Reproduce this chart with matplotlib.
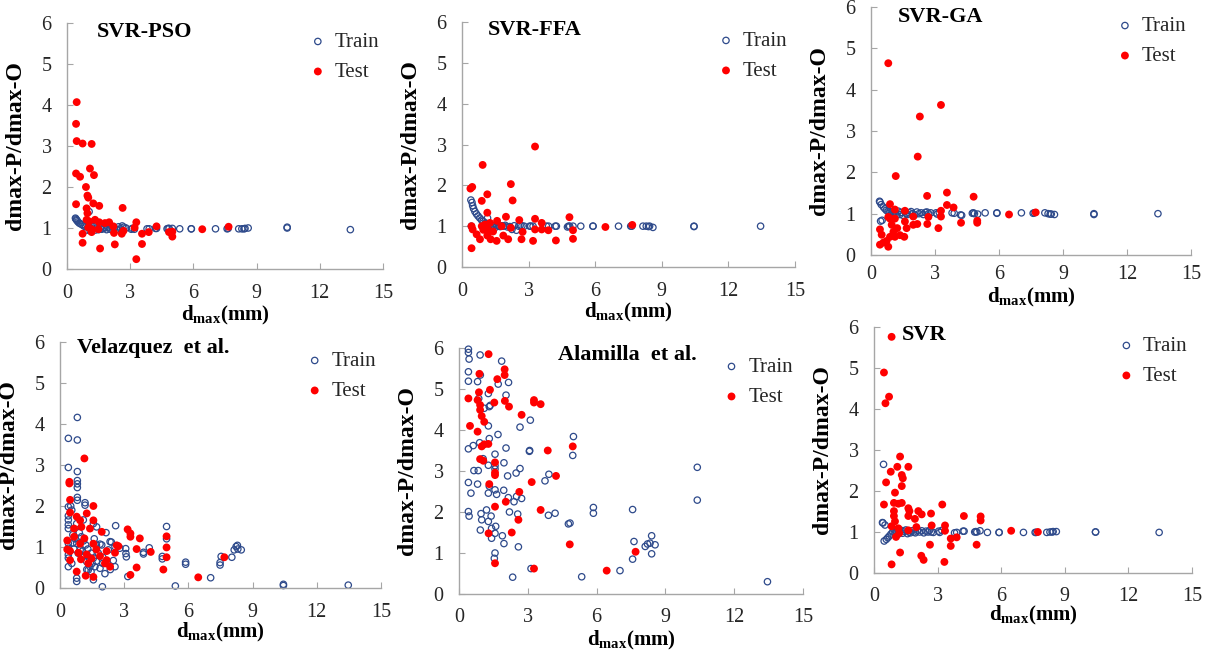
import matplotlib
matplotlib.use('Agg')
import matplotlib.pyplot as plt

plt.rcParams['font.family'] = ['Liberation Serif', 'DejaVu Serif']
plt.rcParams['mathtext.fontset'] = 'custom'
plt.rcParams['mathtext.rm'] = 'Liberation Serif'
plt.rcParams['mathtext.bf'] = 'Liberation Serif:bold'
plt.rcParams['mathtext.it'] = 'Liberation Serif:italic'

# ---------------- data ----------------
# shared training d_max values for the four SVR panels
train_x = [0.40, 0.42, 0.45, 0.48, 0.52, 0.58, 0.65, 0.72, 0.80, 0.88,
           0.95, 1.00, 1.05, 1.10, 1.15, 1.20, 1.28, 1.35, 1.42, 1.50,
           1.58, 1.65, 1.72, 1.80, 1.88, 1.95, 2.05, 2.15, 2.25, 2.35,
           2.45, 2.55, 2.62, 2.70, 2.80, 3.05, 3.10, 3.20, 3.80, 3.90,
           4.20, 4.25, 4.75, 4.80, 4.85, 5.00, 5.35, 5.90, 5.90, 7.05,
           7.60, 7.65, 8.15, 8.30, 8.40, 8.45, 8.60, 10.45, 10.45, 13.45]

pso_train_y = [1.24, 1.22, 1.20, 1.18, 1.15, 1.12, 1.10, 1.08, 1.05, 1.03,
               0.95, 1.02, 1.40, 0.93, 1.05, 0.98, 1.03, 0.95, 1.00, 0.96,
               1.02, 0.97, 0.99, 1.00, 0.96, 1.02, 0.97, 0.99, 1.00, 0.97,
               1.03, 0.98, 1.05, 1.02, 1.00, 0.97, 0.99, 0.97, 0.98, 0.98,
               0.99, 0.99, 0.98, 0.99, 0.99, 0.99, 0.98, 0.98, 0.98, 0.98,
               0.98, 0.99, 0.98, 0.98, 0.98, 0.99, 1.00, 1.02, 1.00, 0.96]

ffa_train_y = [1.64, 1.00, 1.58, 1.50, 1.43, 1.36, 1.30, 1.25, 1.20, 1.15,
               1.12, 1.00, 1.08, 1.05, 1.20, 1.00, 0.98, 1.02, 1.00, 0.97,
               1.02, 1.00, 0.99, 1.01, 1.00, 1.02, 0.98, 0.99, 0.92, 1.01,
               0.90, 1.00, 1.02, 1.01, 1.00, 1.00, 1.00, 1.00, 1.00, 1.00,
               1.00, 1.00, 0.98, 1.00, 1.00, 1.00, 1.00, 1.00, 1.00, 1.00,
               1.00, 1.00, 1.00, 1.00, 0.99, 1.00, 0.97, 1.00, 0.99, 1.00]

ga_train_y = [1.30, 1.28, 0.82, 1.22, 0.84, 1.16, 1.12, 1.08, 1.05, 1.05,
              1.04, 1.00, 1.02, 1.05, 1.00, 0.97, 1.06, 0.98, 1.03, 0.96,
              1.05, 1.00, 0.98, 1.02, 1.05, 1.00, 0.97, 1.04, 1.00, 1.02,
              0.98, 1.03, 1.04, 1.00, 1.02, 1.02, 0.99, 1.03, 1.02, 1.01,
              0.97, 0.96, 1.01, 1.02, 1.00, 0.99, 1.02, 1.02, 1.01, 1.02,
              1.01, 1.02, 1.02, 1.00, 0.99, 0.99, 0.98, 1.00, 0.98, 1.00]

svr_train_y = [1.23, 1.22, 2.65, 0.78, 1.17, 0.82, 0.86, 0.90, 0.95, 1.00,
               1.05, 0.98, 1.02, 1.06, 0.95, 1.00, 1.04, 0.97, 1.02, 1.05,
               0.96, 1.00, 0.98, 1.03, 1.00, 0.98, 1.04, 1.00, 1.03, 0.98,
               1.02, 1.00, 1.04, 1.00, 0.99, 1.02, 0.99, 1.04, 0.98, 0.99,
               1.02, 1.02, 1.00, 1.01, 1.00, 1.03, 0.99, 0.99, 0.99, 0.99,
               0.99, 0.99, 0.99, 1.00, 1.00, 1.01, 1.01, 1.00, 1.00, 0.99]

# SVR-PSO test
pso_test_x = [0.46, 0.43, 0.46, 0.74, 1.17, 0.43, 0.62, 1.09, 1.28, 0.90,
              0.97, 1.01, 0.43, 1.25, 1.53, 2.64, 0.93, 0.97, 1.06, 1.53,
              1.80, 2.00, 2.20, 3.29, 1.01, 1.17, 1.49, 2.23, 2.60, 2.68,
              3.21, 3.56, 3.88, 4.25, 4.84, 5.00, 5.00, 6.42, 7.67, 0.74,
              0.74, 1.17, 1.57, 2.27, 3.56, 3.29, 0.93, 1.33]
pso_test_y = [4.07, 3.54, 3.12, 3.06, 3.05, 2.33, 2.25, 2.45, 2.29, 2.00,
              1.79, 1.74, 1.58, 1.60, 1.54, 1.49, 1.48, 1.36, 1.16, 1.14,
              1.12, 1.14, 1.04, 1.14, 1.01, 0.97, 0.97, 0.88, 0.86, 0.93,
              1.01, 0.86, 0.90, 1.04, 0.90, 0.79, 0.91, 0.97, 1.03, 0.86,
              0.64, 0.90, 0.50, 0.60, 0.61, 0.24, 1.20, 1.20]

# SVR-FFA test
ffa_test_x = [3.29, 0.93, 0.38, 0.46, 2.20, 2.28, 1.14, 0.89, 1.14, 1.98,
              4.84, 3.29, 2.58, 1.58, 3.59, 0.43, 0.48, 2.20, 1.78, 3.29,
              3.59, 3.89, 5.00, 6.46, 7.67, 0.66, 0.81, 1.14, 1.29, 1.56,
              1.86, 2.08, 2.68, 2.73, 3.20, 4.23, 5.00, 0.43, 0.96, 1.18,
              1.40, 1.04, 1.26, 0.89]
ffa_test_y = [2.95, 2.50, 1.92, 1.96, 2.03, 1.63, 1.78, 1.62, 1.33, 1.23,
              1.22, 1.18, 1.15, 1.13, 1.08, 1.00, 0.92, 0.96, 1.00, 0.92,
              0.92, 0.90, 0.90, 0.98, 1.03, 0.80, 0.68, 0.77, 0.68, 0.64,
              0.77, 0.68, 0.68, 0.86, 0.64, 0.65, 0.69, 0.46, 0.91, 0.91,
              0.87, 1.04, 1.08, 1.00]

# SVR-GA test
ga_test_x = [0.81, 3.28, 2.29, 2.19, 1.16, 2.63, 3.56, 4.81, 3.56, 3.87,
             0.89, 1.12, 1.59, 3.28, 3.28, 2.69, 1.98, 0.81, 6.47, 7.72,
             4.98, 4.98, 4.22, 3.16, 2.64, 2.17, 1.98, 1.59, 1.67, 1.12,
             0.97, 1.05, 1.23, 1.36, 1.12, 0.50, 0.89, 0.42, 1.56, 0.42,
             0.58, 0.81, 0.73, 0.89]
ga_test_y = [4.64, 3.63, 3.35, 2.38, 1.91, 1.43, 1.51, 1.41, 1.21, 1.15,
             1.23, 1.10, 1.07, 1.07, 0.93, 0.92, 0.93, 0.92, 0.98, 1.03,
             0.83, 0.78, 0.78, 0.65, 0.75, 0.75, 0.73, 0.81, 0.65, 0.88,
             0.73, 0.56, 0.65, 0.48, 0.44, 0.49, 0.44, 0.62, 0.44, 0.25,
             0.30, 0.20, 0.34, 0.88]

# Velazquez et al.
vel_train_x = [0.81, 0.39, 0.81, 0.39, 0.81, 0.81, 0.81, 0.81, 0.81, 0.81,
               1.17, 1.17, 0.39, 0.55, 0.39, 0.39, 0.39, 0.39, 0.78, 1.09,
               1.56, 1.71, 2.60, 0.39, 0.39, 0.39, 0.39, 0.39, 0.55, 0.78,
               0.94, 1.01, 1.25, 1.40, 1.56, 1.79, 1.63, 1.87, 2.10, 1.32,
               1.95, 2.34, 2.26, 2.57, 2.80, 3.07, 3.08, 3.10, 3.17, 4.17,
               3.90, 3.90, 4.78, 4.78, 4.98, 4.98, 5.87, 5.87, 5.39, 7.04,
               7.48, 7.48, 7.53, 8.03, 8.14, 8.23, 8.29, 8.31, 8.47, 10.44,
               10.44, 13.47, 1.98, 0.78, 0.78, 1.56, 2.57, 2.49, 1.87, 2.40,
               0.60, 0.70, 0.90, 1.00, 1.10, 1.20, 1.30, 1.45, 0.65, 0.85,
               1.05, 1.15, 1.35, 1.50, 1.70, 2.00, 2.20, 2.35, 1.60, 1.70,
               2.15, 2.00, 0.50, 0.60, 1.25, 1.45]
vel_train_y = [4.16, 3.65, 3.61, 2.94, 2.84, 2.62, 2.54, 2.45, 2.21, 2.14,
               2.08, 2.02, 1.98, 1.90, 1.76, 1.66, 1.54, 1.45, 1.57, 1.66,
               1.57, 1.49, 1.52, 1.09, 0.97, 0.81, 0.73, 0.52, 0.60, 1.09,
               0.93, 0.77, 0.64, 0.52, 0.73, 0.85, 0.52, 0.48, 0.35, 0.44,
               1.05, 1.13, 0.93, 1.01, 0.97, 0.96, 0.84, 0.76, 0.28, 0.98,
               0.87, 0.83, 0.77, 0.71, 1.50, 1.20, 0.63, 0.58, 0.05, 0.25,
               0.62, 0.56, 0.77, 0.75, 0.93, 1.01, 1.04, 0.95, 0.93, 0.09,
               0.06, 0.07, 0.03, 0.16, 0.24, 0.20, 0.52, 0.67, 1.07, 1.12,
               1.30, 1.20, 1.35, 1.25, 1.15, 1.05, 0.95, 0.85, 0.95, 0.85,
               0.90, 0.80, 0.75, 0.60, 0.65, 0.75, 0.60, 0.45, 1.20, 1.05,
               1.35, 0.60, 2.00, 1.10, 0.45, 0.40]
vel_test_x = [1.14, 0.44, 0.44, 0.47, 0.47, 1.56, 0.78, 1.25, 1.56, 0.94,
              1.95, 1.00, 0.66, 1.40, 3.16, 3.29, 3.29, 3.73, 4.98, 0.66,
              1.14, 0.94, 1.56, 0.34, 0.34, 0.86, 1.25, 0.98, 1.70, 1.87,
              2.18, 2.57, 2.73, 2.65, 3.58, 4.24, 4.98, 3.58, 3.29, 4.83,
              4.98, 6.46, 7.68, 0.47, 0.47, 0.78, 1.20, 1.56, 2.18, 2.34,
              2.10, 1.32, 1.47]
vel_test_y = [3.16, 2.59, 2.55, 2.15, 1.84, 2.00, 1.74, 1.82, 1.65, 1.65,
              1.37, 1.49, 1.45, 1.45, 1.43, 1.33, 1.25, 1.21, 1.26, 1.25,
              1.21, 1.08, 1.08, 1.16, 0.94, 0.86, 0.82, 0.70, 0.94, 0.78,
              0.90, 0.86, 1.02, 1.04, 0.95, 0.88, 0.99, 0.50, 0.32, 0.45,
              0.75, 0.26, 0.75, 0.90, 0.68, 0.40, 0.30, 0.27, 0.68, 0.52,
              0.60, 0.60, 0.72]

# Alamilla et al.
ala_train_x = [0.41, 0.41, 0.92, 0.44, 1.86, 0.41, 0.93, 0.41, 0.81, 1.71,
               2.16, 1.28, 2.05, 0.86, 1.32, 1.10, 1.36, 3.11, 2.66, 1.28,
               1.70, 4.99, 0.41, 1.32, 0.90, 3.08, 3.07, 4.96, 2.05, 1.57,
               1.57, 1.96, 0.65, 0.84, 1.28, 2.66, 2.49, 2.12, 3.92, 3.75,
               0.41, 0.81, 1.32, 1.57, 0.52, 1.28, 1.64, 2.15, 2.51, 2.73,
               0.41, 0.44, 0.96, 0.99, 1.40, 1.28, 2.20, 2.56, 3.90, 4.19,
               4.77, 4.84, 1.42, 0.93, 1.57, 1.89, 1.42, 2.59, 1.96, 1.57,
               1.54, 2.34, 5.35, 3.14, 5.86, 5.86, 7.57, 7.63, 7.57, 7.02,
               8.12, 8.22, 8.33, 8.40, 8.55, 8.40, 10.39, 10.39, 13.45, 0.62,
               1.05, 1.57, 1.95, 2.40, 1.20, 1.60]
ala_train_y = [5.97, 5.89, 5.83, 5.73, 5.68, 5.42, 5.34, 5.19, 5.18, 5.12,
               5.16, 4.89, 4.85, 4.77, 4.57, 4.53, 4.60, 4.24, 4.07, 4.10,
               3.89, 3.84, 3.54, 3.79, 3.69, 3.50, 3.48, 3.38, 3.56, 3.41,
               3.13, 3.20, 3.01, 3.01, 3.14, 3.06, 2.95, 2.88, 2.92, 2.76,
               2.72, 2.68, 2.63, 2.54, 2.46, 2.46, 2.43, 2.35, 2.38, 2.33,
               2.01, 1.90, 1.96, 1.81, 1.90, 1.77, 2.00, 1.95, 1.92, 1.97,
               1.71, 1.73, 1.60, 1.56, 1.48, 1.42, 1.36, 1.15, 1.23, 1.00,
               0.87, 0.41, 0.42, 0.62, 2.11, 1.97, 2.06, 1.28, 0.85, 0.57,
               1.16, 1.22, 1.24, 1.42, 1.20, 0.98, 3.09, 2.29, 0.30, 3.62,
               3.30, 3.05, 2.53, 2.25, 2.05, 1.65]
ala_test_x = [1.29, 0.89, 1.99, 1.99, 1.67, 1.35, 0.87, 0.41, 0.81, 0.92,
              1.54, 2.00, 2.18, 3.27, 3.27, 3.56, 2.73, 0.92, 0.99, 1.10,
              0.48, 0.81, 1.10, 1.28, 0.99, 3.87, 4.96, 0.92, 1.06, 1.57,
              1.57, 1.57, 4.23, 1.32, 3.17, 2.63, 2.04, 1.57, 3.56, 2.59,
              2.30, 1.29, 4.83, 1.57, 3.27, 7.70, 6.44]
ala_test_y = [5.85, 5.37, 5.48, 5.34, 5.24, 4.98, 4.92, 4.77, 4.73, 4.61,
              4.67, 4.71, 4.57, 4.73, 4.67, 4.63, 4.37, 4.49, 4.34, 4.20,
              4.10, 3.96, 3.65, 3.66, 3.60, 3.50, 3.60, 3.29, 3.25, 3.21,
              2.96, 2.90, 2.88, 2.68, 2.73, 2.49, 2.25, 2.13, 2.05, 1.81,
              1.50, 1.48, 1.21, 0.75, 0.62, 1.03, 0.57]

# SVR test
svr_test_x = [0.83, 0.47, 0.71, 0.54, 1.23, 1.10, 1.62, 0.79, 1.31, 1.36,
              0.57, 1.31, 0.99, 0.47, 0.94, 1.15, 1.31, 3.22, 1.62, 1.67,
              2.09, 2.25, 2.69, 4.24, 5.03, 5.03, 0.94, 0.94, 1.62, 1.93,
              2.72, 1.15, 3.35, 2.00, 1.62, 0.99, 0.83, 1.04, 3.35, 6.47,
              7.73, 3.62, 3.90, 3.62, 4.84, 2.64, 1.23, 2.23, 2.34, 3.32,
              0.83, 1.19]
svr_test_y = [5.76, 4.89, 4.30, 4.14, 2.84, 2.59, 2.59, 2.47, 2.39, 2.31,
              2.21, 2.12, 1.96, 1.67, 1.71, 1.69, 1.71, 1.67, 1.58, 1.51,
              1.51, 1.43, 1.45, 1.39, 1.38, 1.28, 1.51, 1.39, 1.39, 1.32,
              1.16, 1.09, 1.16, 1.12, 1.04, 1.26, 1.14, 0.88, 1.03, 1.03,
              1.00, 0.84, 0.87, 0.66, 0.69, 0.69, 0.50, 0.42, 0.32, 0.27,
              0.21, 0.97]

titles = ['SVR-PSO', 'SVR-FFA', 'SVR-GA', 'Velazquez  et al.', 'Alamilla  et al.', 'SVR']
x_ticks = [0, 3, 6, 9, 12, 15]
y_ticks = [0, 1, 2, 3, 4, 5, 6]
series_labels = ['Train', 'Test']

panel_data = [
    (train_x, pso_train_y, pso_test_x, pso_test_y),
    (train_x, ffa_train_y, ffa_test_x, ffa_test_y),
    (train_x, ga_train_y, ga_test_x, ga_test_y),
    (vel_train_x, vel_train_y, vel_test_x, vel_test_y),
    (ala_train_x, ala_train_y, ala_test_x, ala_test_y),
    (train_x, svr_train_y, svr_test_x, svr_test_y),
]

# ---------------- layout (pixels) ----------------
W, H = 1206, 651
# left, right, top, bottom of each plot area
boxes = [(67, 383, 23, 269), (462, 795, 22, 267), (871, 1191, 7, 255),
         (60, 381, 342, 588), (459, 803, 348, 594), (874, 1192, 327, 573)]
title_pos = [(0.095, 0.963), (0.078, 0.967), (0.084, 0.96),
             (0.053, 0.976), (0.288, 0.97), (0.088, 0.967)]
xlabel_off = [46, 45, 42, 44, 46, 42]
xtick_pad = [11, 11, 7, 11, 10, 10]

train_color = '#2E4A8B'
test_color = '#FF0000'
spine_color = '#A6A6A6'
text_color = '#262626'

fig = plt.figure(figsize=(W / 100, H / 100), dpi=100)

for i, (l, r, t, b) in enumerate(boxes):
    ax = fig.add_axes([l / W, (H - b) / H, (r - l) / W, (b - t) / H])
    tx, ty, sx, sy = panel_data[i]
    ax.scatter(tx, ty, s=21, facecolors='none', edgecolors=train_color,
               linewidths=0.9, label=series_labels[0], clip_on=False, zorder=2)
    ax.scatter(sx, sy, s=32, color=test_color, edgecolors='none',
               label=series_labels[1], clip_on=False, zorder=3)
    ax.set_xlim(0, 15)
    ax.set_ylim(0, 6)
    ax.set_xticks(x_ticks)
    ax.set_yticks(y_ticks)
    for side in ['top', 'right']:
        ax.spines[side].set_visible(False)
    for side in ['left', 'bottom']:
        ax.spines[side].set_color(spine_color)
        ax.spines[side].set_linewidth(1.0)
    ax.tick_params(axis='both', direction='in', length=4, color=spine_color,
                   labelsize=14.5, labelcolor=text_color)
    ax.tick_params(axis='y', pad=11)
    ax.tick_params(axis='x', pad=xtick_pad[i])
    ax.set_ylabel('dmax-P/dmax-O', fontsize=17, fontweight='bold', color='black')
    ax.yaxis.set_label_coords(-41 / (r - l), 0.5)
    ax.set_xlabel(r'd$_{\mathbf{max}}$(mm)', fontsize=15, fontweight='bold', color='black')
    ax.xaxis.label.set_va('center')
    ax.xaxis.set_label_coords(0.5, -xlabel_off[i] / (b - t))
    ax.text(title_pos[i][0], title_pos[i][1], titles[i], transform=ax.transAxes,
            fontsize=16, fontweight='bold', ha='left', va='center', color='black')
    ax.legend(loc='upper left', bbox_to_anchor=(0.774, 0.962), frameon=False,
              handlelength=0.6, handletextpad=0.5, borderpad=0, borderaxespad=0,
              labelspacing=0.5, scatterpoints=1, prop={'size': 15},
              labelcolor=text_color)

fig.savefig('out.png', dpi=100)
